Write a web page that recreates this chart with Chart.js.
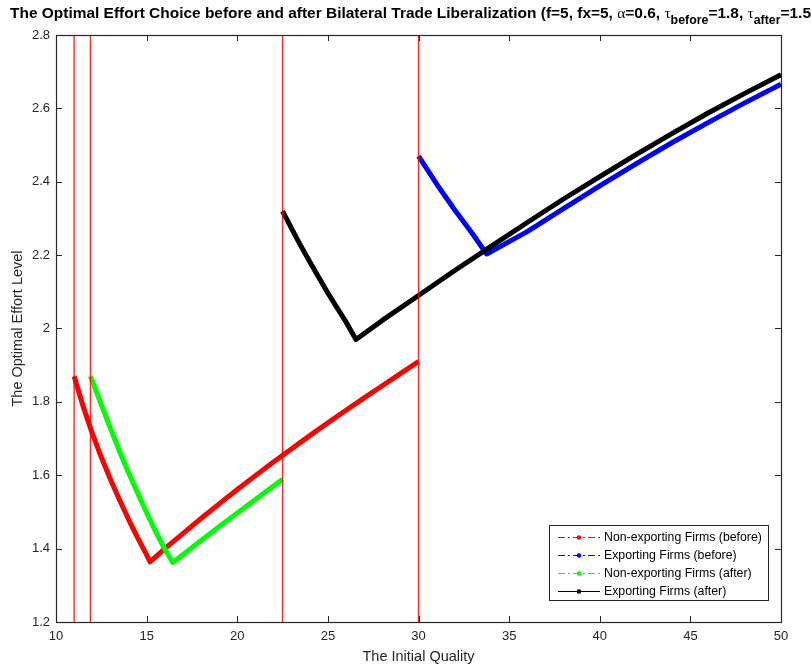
<!DOCTYPE html>
<html>
<head>
<meta charset="utf-8">
<script src="https://cdn.jsdelivr.net/npm/chart.js@4.4.1/dist/chart.umd.min.js"></script>
<style>
  html, body { margin: 0; padding: 0; background: #fff; }
  #wrap { width: 811px; height: 668px; }
</style>
</head>
<body>
<div id="wrap"><canvas id="effort-chart" width="811" height="668"></canvas></div>
<script>
// cutoff qualities (vertical red lines)
const CUTOFFS = [11, 11.9, 22.5, 30];

// Non-exporting firms (before)
const NONEXP_BEFORE_X = [11, 11.5, 12, 12.5, 13, 13.5, 14, 14.5, 15, 15.19, 16, 17, 18, 19, 20, 21, 22, 23, 24, 25, 26, 27, 28, 29, 30];
const NONEXP_BEFORE_Y = [1.87, 1.787, 1.714, 1.649, 1.589, 1.533, 1.48, 1.43, 1.383, 1.364, 1.40, 1.441, 1.482, 1.522, 1.561, 1.599, 1.636, 1.672, 1.708, 1.743, 1.777, 1.811, 1.844, 1.877, 1.91];

// Exporting firms (before)
const EXP_BEFORE_X = [30, 31, 32, 33, 33.76, 36, 38, 40, 42, 44, 46, 48, 50];
const EXP_BEFORE_Y = [2.47, 2.394, 2.323, 2.257, 2.203, 2.264, 2.327, 2.389, 2.449, 2.507, 2.562, 2.615, 2.666];

// Non-exporting firms (after)
const NONEXP_AFTER_X = [11.9, 12.5, 13, 13.5, 14, 14.5, 15, 15.5, 16, 16.44, 17, 18, 19, 20, 21, 22, 22.5];
const NONEXP_AFTER_Y = [1.87, 1.792, 1.728, 1.666, 1.607, 1.552, 1.498, 1.446, 1.399, 1.362, 1.383, 1.422, 1.46, 1.497, 1.534, 1.571, 1.589];

// Exporting firms (after)
const EXP_AFTER_X = [22.5, 23, 23.5, 24, 24.5, 25, 25.5, 26, 26.55, 28, 30, 32, 34, 36, 38, 40, 42, 44, 46, 48, 50];
const EXP_AFTER_Y = [2.32, 2.272, 2.226, 2.182, 2.139, 2.097, 2.057, 2.018, 1.97, 2.022, 2.09, 2.158, 2.224, 2.289, 2.353, 2.414, 2.474, 2.532, 2.588, 2.641, 2.692];

const X_TICKS = [10, 15, 20, 25, 30, 35, 40, 45, 50];
const Y_TICKS = [1.2, 1.4, 1.6, 1.8, 2, 2.2, 2.4, 2.6, 2.8];

const LEGEND_LABELS = ['Non-exporting Firms (before)', 'Exporting Firms (before)', 'Non-exporting Firms (after)', 'Exporting Firms (after)'];
const LEGEND_COLORS = ['#ff0000', '#0000ff', '#00ff00', '#000000'];
const LEGEND_DASHED = [true, true, true, false];

const TITLE_PARTS = [
  { text: 'The Optimal Effort Choice before and after Bilateral Trade Liberalization (f=5, fx=5, ', kind: 'b' },
  { text: 'α', kind: 'g' },
  { text: '=0.6, ', kind: 'b' },
  { text: 'τ', kind: 'g' },
  { text: 'before', kind: 'sub' },
  { text: '=1.8, ', kind: 'b' },
  { text: 'τ', kind: 'g' },
  { text: 'after', kind: 'sub' },
  { text: '=1.5', kind: 'b' },
  { text: ')', kind: 'b' },
];

const AXIS_COLOR = '#262626';
const FONT = '"Liberation Sans", Arial, sans-serif';

function zip(xs, ys) {
  return xs.map((x, i) => ({ x: x, y: ys[i] }));
}

function curve(xs, ys, color) {
  return {
    data: zip(xs, ys),
    borderColor: color,
    borderWidth: 5,
    borderCapStyle: 'butt',
    borderJoinStyle: 'round',
    tension: 0,
    pointRadius: 0,
    fill: false,
  };
}

// vertical cutoff lines first so they are drawn on top
let datasets = CUTOFFS.map((c) => ({
  data: [{ x: c, y: 1.2 }, { x: c, y: 2.8 }],
  borderColor: 'rgba(255, 0, 0, 0.85)',
  borderWidth: 1.4,
  pointRadius: 0,
  fill: false,
}));
datasets = datasets.concat([
  curve(EXP_AFTER_X, EXP_AFTER_Y, '#000000'),
  curve(NONEXP_AFTER_X, NONEXP_AFTER_Y, '#00ff00'),
  curve(EXP_BEFORE_X, EXP_BEFORE_Y, '#0000ff'),
  curve(NONEXP_BEFORE_X, NONEXP_BEFORE_Y, '#ff0000'),
]);

// box around the plot with inward ticks on all four sides
const frame = {
  id: 'frame',
  afterDraw(chart) {
    const { ctx, chartArea: a, scales } = chart;
    const len = 6;
    ctx.save();
    ctx.strokeStyle = AXIS_COLOR;
    ctx.lineWidth = 1;
    ctx.beginPath();
    X_TICKS.forEach((v) => {
      const px = Math.round(scales.x.getPixelForValue(v)) + 0.5;
      ctx.moveTo(px, a.bottom); ctx.lineTo(px, a.bottom - len);
      ctx.moveTo(px, a.top); ctx.lineTo(px, a.top + len);
    });
    Y_TICKS.forEach((v) => {
      const py = Math.round(scales.y.getPixelForValue(v)) + 0.5;
      ctx.moveTo(a.left, py); ctx.lineTo(a.left + len, py);
      ctx.moveTo(a.right, py); ctx.lineTo(a.right - len, py);
    });
    ctx.stroke();
    ctx.lineWidth = 1.2;
    ctx.strokeRect(Math.round(a.left) + 0.5, Math.round(a.top) + 0.5, Math.round(a.right - a.left), Math.round(a.bottom - a.top));
    ctx.restore();
  },
};

const legendBox = {
  id: 'legendBox',
  afterDraw(chart) {
    const ctx = chart.ctx;
    const left = 549, top = 525, w = 219, h = 75, row = 18;
    ctx.save();
    ctx.fillStyle = '#fff';
    ctx.fillRect(left, top, w, h);
    ctx.strokeStyle = AXIS_COLOR;
    ctx.lineWidth = 1;
    ctx.strokeRect(left + 0.5, top + 0.5, w, h);
    LEGEND_LABELS.forEach((label, i) => {
      const y = top + 12 + i * row + 0.5;
      ctx.strokeStyle = LEGEND_COLORS[i];
      ctx.fillStyle = LEGEND_COLORS[i];
      ctx.lineWidth = 1;
      ctx.setLineDash(LEGEND_DASHED[i] ? [7, 3, 2, 3] : []);
      ctx.beginPath();
      ctx.moveTo(left + 9, y);
      ctx.lineTo(left + 51, y);
      ctx.stroke();
      ctx.setLineDash([]);
      ctx.beginPath();
      ctx.arc(left + 30, y, 2.3, 0, Math.PI * 2);
      ctx.fill();
      ctx.fillStyle = '#000';
      ctx.font = '12.3px ' + FONT;
      ctx.textBaseline = 'middle';
      ctx.fillText(label, left + 55, y);
    });
    ctx.restore();
  },
};

function partFont(kind) {
  if (kind === 'g') return '15px "Liberation Serif", serif';
  if (kind === 'sub') return 'bold 12px ' + FONT;
  return 'bold 15px ' + FONT;
}

// title with greek letters and subscripts, clipped at the right edge like the original
const richTitle = {
  id: 'richTitle',
  afterDraw(chart) {
    const ctx = chart.ctx;
    ctx.save();
    let total = 0;
    TITLE_PARTS.slice(0, -1).forEach((p) => {
      ctx.font = partFont(p.kind);
      total += ctx.measureText(p.text).width;
    });
    const sx = 801 / total;
    ctx.translate(10, 18);
    ctx.scale(sx, 1);
    ctx.fillStyle = '#000';
    ctx.textBaseline = 'alphabetic';
    let x = 0;
    TITLE_PARTS.forEach((p) => {
      ctx.font = partFont(p.kind);
      ctx.fillText(p.text, x, p.kind === 'sub' ? 6 : 0);
      x += ctx.measureText(p.text).width;
    });
    ctx.restore();
  },
};

const ctx = document.getElementById('effort-chart').getContext('2d');
const effortChart = new Chart(ctx, {
  type: 'line',
  data: { datasets: datasets },
  options: {
    responsive: false,
    animation: false,
    layout: { padding: { top: 35, right: 30, left: 0, bottom: 0 } },
    plugins: {
      legend: { display: false },
      title: { display: false },
      tooltip: { enabled: false },
    },
    scales: {
      x: {
        type: 'linear',
        min: 10,
        max: 50,
        afterBuildTicks: (s) => { s.ticks = X_TICKS.map((v) => ({ value: v })); },
        ticks: { color: AXIS_COLOR, font: { family: FONT, size: 13 }, padding: 7, maxRotation: 0 },
        grid: { display: false, drawTicks: false, tickLength: 0 },
        border: { display: false },
        title: { display: true, text: 'The Initial Quality', color: AXIS_COLOR, font: { family: FONT, size: 14.5 }, padding: { top: 0, bottom: 2 } },
        afterFit: (s) => { s.height = 46; },
      },
      y: {
        type: 'linear',
        min: 1.2,
        max: 2.8,
        afterBuildTicks: (s) => { s.ticks = Y_TICKS.map((v) => ({ value: v })); },
        ticks: { color: AXIS_COLOR, font: { family: FONT, size: 13 }, padding: 6, callback: (v) => String(+v.toFixed(1)) },
        grid: { display: false, drawTicks: false, tickLength: 0 },
        border: { display: false },
        title: { display: true, text: 'The Optimal Effort Level', color: AXIS_COLOR, font: { family: FONT, size: 14.5 }, padding: { top: 9, bottom: 0 } },
        afterFit: (s) => { s.width = 56; },
      },
    },
  },
  plugins: [frame, legendBox, richTitle],
});
</script>
</body>
</html>
